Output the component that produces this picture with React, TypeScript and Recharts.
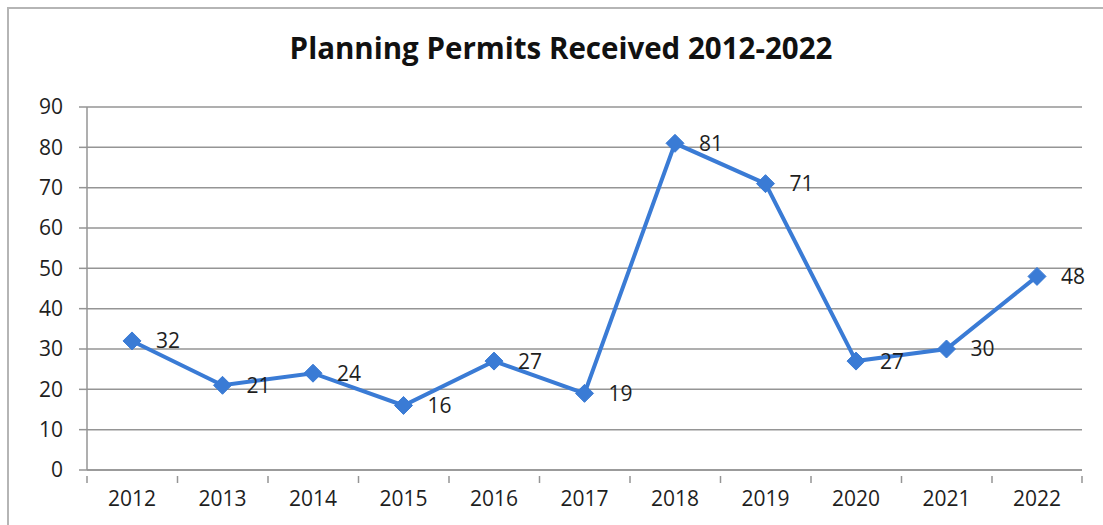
import React from "react";
import { LineChart, Line, XAxis, YAxis, CartesianGrid, LabelList } from "recharts";

const YEARS = ["2012", "2013", "2014", "2015", "2016", "2017", "2018", "2019", "2020", "2021", "2022"];
const PERMITS = [32, 21, 24, 16, 27, 19, 81, 71, 27, 30, 48];
const Y_TICKS = [0, 10, 20, 30, 40, 50, 60, 70, 80, 90];

const data = YEARS.map((year, i) => ({ year, permits: PERMITS[i] }));

const BLUE = "#3a7bd5";
const GRID = "#959595";
const FONT = "'Open Sans', 'Liberation Sans', sans-serif";
const HALF_BAND = 45; // same as the x padding

// diamond marker
const Diamond = (props: any) => {
  const { cx, cy } = props;
  if (cx == null || cy == null) return null;
  const r = 9;
  return <path d={`M${cx},${cy - r}L${cx + r},${cy}L${cx},${cy + r}L${cx - r},${cy}Z`} fill={BLUE} stroke={BLUE} strokeWidth={1} />;
};

// year label plus the small tick marks that sit between categories
const YearTick = (props: any) => {
  const { x, y, payload, index, visibleTicksCount } = props;
  const axisY = y - 21;
  const last = index === (visibleTicksCount ?? YEARS.length) - 1;
  return (
    <g>
      <line x1={x - HALF_BAND} x2={x - HALF_BAND} y1={axisY} y2={axisY + 7} stroke={GRID} strokeWidth={1.5} />
      {last && <line x1={x + HALF_BAND} x2={x + HALF_BAND} y1={axisY} y2={axisY + 7} stroke={GRID} strokeWidth={1.5} />}
      <text x={x} y={y + 1} textAnchor="middle" dominantBaseline="central" fill="#1e1e1e" fontSize={21} fontFamily={FONT}>
        {payload.value}
      </text>
    </g>
  );
};

export default function App() {
  return (
    <div style={{ position: "absolute", left: 0, top: 0, width: 1103, height: 525, background: "#fff", fontFamily: FONT }}>
      {/* frame */}
      <div style={{ position: "absolute", left: 7, top: 7, right: 0, bottom: 0, borderTop: "2px solid #b5b5b5", borderLeft: "2px solid #b5b5b5" }} />
      <div style={{ position: "absolute", left: 0, width: 1122, top: 27, textAlign: "center", fontSize: 29.5, fontWeight: 700, color: "#111", lineHeight: "normal" }}>
        Planning Permits Received 2012-2022
      </div>
      <LineChart width={1103} height={525} data={data} margin={{ top: 107, right: 21, bottom: 15, left: 0 }} style={{ position: "absolute", left: 0, top: 0 }}>
        <CartesianGrid horizontal vertical={false} stroke={GRID} strokeWidth={1.5} />
        <XAxis
          dataKey="year"
          height={40}
          padding={{ left: HALF_BAND, right: HALF_BAND }}
          axisLine={{ stroke: GRID, strokeWidth: 1.5 }}
          tickLine={false}
          tickMargin={21}
          interval={0}
          tick={<YearTick />}
        />
        <YAxis
          domain={[0, 90]}
          ticks={Y_TICKS}
          width={87}
          axisLine={{ stroke: GRID, strokeWidth: 1.5 }}
          tickLine={{ stroke: GRID, strokeWidth: 1.5 }}
          tickSize={8}
          tickMargin={16}
          tick={{ fill: "#1e1e1e", fontSize: 21, fontFamily: FONT }}
        />
        <Line
          type="linear"
          dataKey="permits"
          stroke={BLUE}
          strokeWidth={4}
          dot={<Diamond />}
          activeDot={false}
          isAnimationActive={false}
        >
          <LabelList dataKey="permits" position="right" offset={24} style={{ fill: "#1e1e1e", fontSize: 21, fontFamily: FONT }} />
        </Line>
      </LineChart>
    </div>
  );
}
